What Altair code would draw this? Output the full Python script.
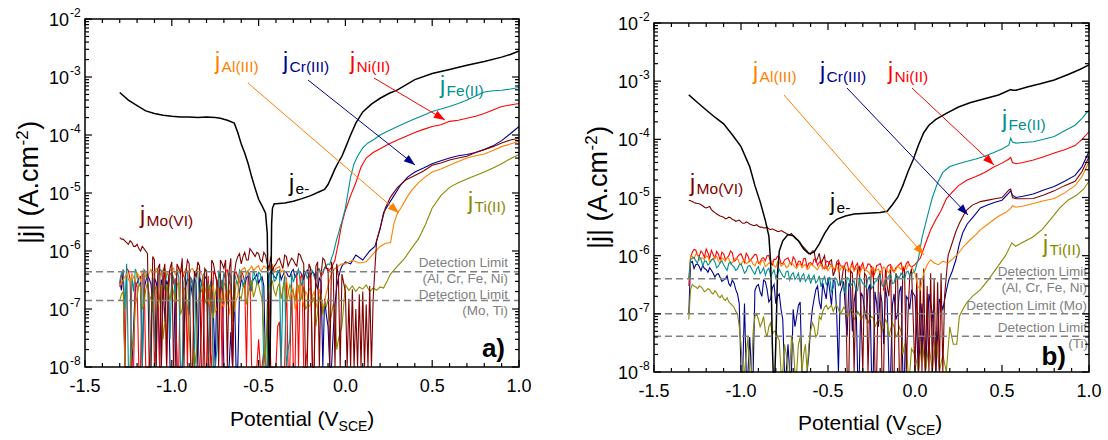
import math
import altair as alt
import pandas as pd

# ------------------------------------------------------------------ data
# sweep potentials (V_SCE) of the low-current (noise) section, two interleaved sample sets
E_grid = [round(-1.30 + 0.02 * i, 2) for i in range(65)]
E_grid2 = [round(-1.29 + 0.02 * i, 2) for i in range(64)]
U = 1e-7  # noise lists are in units of 1e-7 A/cm2 ; 0.05 = below the 1e-8 axis floor

# ---------------- panel a)
je_a_E = [-1.30, -1.25, -1.20, -1.15, -1.10, -1.05, -1.00, -0.95, -0.90, -0.85,
          -0.80, -0.75, -0.72, -0.68, -0.64, -0.62, -0.60, -0.58, -0.56, -0.54,
          -0.52, -0.50, -0.48, -0.46, -0.45, -0.445, -0.44, -0.435, -0.43, -0.425,
          -0.42, -0.41, -0.40, -0.35, -0.30, -0.25, -0.20, -0.15, -0.12, -0.10,
          -0.08, -0.06, -0.04, -0.02, 0.00, 0.03, 0.06, 0.10, 0.15, 0.20,
          0.25, 0.30, 0.40, 0.50, 0.60, 0.70, 0.80, 0.90, 0.95, 1.00]
je_a_j = [5.4e-4, 4.0e-4, 3.2e-4, 2.6e-4, 2.35e-4, 2.2e-4, 2.1e-4, 2.05e-4, 2.05e-4, 2.0e-4,
          2.05e-4, 2.0e-4, 1.95e-4, 1.8e-4, 1.6e-4, 1.1e-4, 7e-5, 4.9e-5, 3.2e-5, 1.9e-5,
          1.2e-5, 7.8e-6, 6e-6, 4.5e-6, 2e-6, 1e-7, 5e-9, 5e-9, 1e-7, 3e-6,
          5.5e-6, 6.5e-6, 6.5e-6, 6.7e-6, 7.2e-6, 8e-6, 9e-6, 1.05e-5, 1.15e-5, 1.4e-5,
          1.9e-5, 2.6e-5, 3.4e-5, 4.3e-5, 6e-5, 1.0e-4, 1.6e-4, 2.5e-4, 3.4e-4, 4.3e-4,
          5.2e-4, 6.0e-4, 9.0e-4, 1.15e-3, 1.35e-3, 1.6e-3, 1.85e-3, 2.2e-3, 2.45e-3, 2.8e-3]

fe_a_noise = [3.0, 4.5, 6.0, 0.05, 2.0, 4.0, 2.5, 4.8, 3.2, 0.05, 0.4, 3.5, 4.6, 2.2, 3.9,
              4.4, 1.8, 3.6, 0.05, 4.2, 0.8, 3.0, 4.5, 1.5, 3.8, 4.6, 2.4, 0.05, 0.2, 3.3,
              4.2, 1.2, 3.5, 4.4, 2.6, 4.0, 3.1, 4.6, 2.0, 3.6, 4.3, 2.8, 0.05, 3.9, 4.8,
              3.2, 4.5, 2.2, 0.05, 0.3, 2.9, 4.2, 3.0, 4.6, 3.4, 4.8, 3.6, 5.0, 4.1, 5.2,
              6.0, 7.5, 12, 20, 32]
fe_a_noise2 = [4.2, 1.0, 0.05, 3.6, 4.9, 2.8, 0.05, 4.3, 1.6, 3.9, 0.05, 4.8, 2.6, 4.0, 0.3,
               3.4, 4.7, 0.05, 2.9, 4.5, 3.5, 0.05, 4.1, 2.7, 4.4, 0.05, 3.6, 0.05, 4.6, 2.3,
               3.8, 4.5, 0.6, 3.2, 4.7, 2.4, 4.2, 3.3, 4.9, 2.7, 4.0, 0.05, 0.05, 4.4, 3.0,
               4.6, 0.05, 3.7, 0.2, 4.1, 3.6, 4.9, 2.5, 4.3, 3.9, 4.6, 3.2, 4.8, 4.4, 5.6,
               5.8, 9, 16, 26]
fe_a_E = [0.00, 0.03, 0.05, 0.07, 0.10, 0.13, 0.16, 0.20, 0.24, 0.30, 0.38, 0.45,
          0.50, 0.55, 0.60, 0.65, 0.70, 0.75, 0.80, 0.85, 0.90, 0.95, 1.00]
fe_a_j = [5.5e-6, 1.9e-5, 3.2e-5, 4.3e-5, 6.0e-5, 7.3e-5, 8.2e-5, 1.0e-4, 1.15e-4, 1.4e-4, 1.8e-4, 2.2e-4,
          2.55e-4, 2.8e-4, 3.1e-4, 3.5e-4, 4.0e-4, 4.7e-4, 5.5e-4, 5.8e-4, 5.9e-4, 6.2e-4, 6.6e-4]

ni_a_noise = [2.4, 4.0, 5.0, 3.2, 0.05, 2.5, 0.05, 4.2, 0.05, 0.4, 0.05, 3.6, 0.05, 4.5, 2.0,
              4.2, 3.4, 0.05, 4.8, 3.0, 4.0, 2.6, 0.05, 0.05, 3.8, 0.05, 0.2, 4.4, 2.8, 4.1,
              3.3, 4.7, 2.5, 4.0, 3.6, 4.5, 2.9, 4.2, 0.05, 0.05, 0.3, 0.05, 0.05, 2.0, 0.05,
              0.05, 0.6, 0.05, 3.5, 0.05, 0.05, 4.2, 3.4, 0.05, 0.2, 3.9, 0.05, 4.6, 3.7, 5.0,
              4.4, 5.2, 7.0, 14, 30]
ni_a_noise2 = [3.8, 0.05, 4.6, 0.05, 3.0, 0.05, 3.9, 0.05, 0.05, 4.4, 0.3, 0.05, 3.1, 0.05, 4.0,
               2.7, 0.05, 4.3, 3.6, 0.05, 3.2, 0.05, 0.05, 0.4, 0.05, 3.7, 0.05, 4.0, 3.4, 0.05,
               4.5, 3.0, 0.05, 4.4, 2.8, 3.9, 0.05, 4.1, 0.05, 0.05, 0.05, 0.2, 0.05, 0.05, 0.05,
               0.5, 0.05, 0.05, 0.05, 3.0, 0.05, 0.05, 4.0, 0.05, 3.6, 0.05, 4.3, 4.9, 4.0, 5.3,
               4.8, 6.0, 10, 21]
ni_a_E = [0.00, 0.03, 0.06, 0.09, 0.12, 0.16, 0.20, 0.25, 0.30, 0.35, 0.40, 0.45,
          0.50, 0.55, 0.60, 0.65, 0.70, 0.75, 0.80, 0.85, 0.90, 0.95, 1.00]
ni_a_j = [5.0e-6, 9e-6, 1.5e-5, 2.8e-5, 4.0e-5, 5.0e-5, 5.8e-5, 7.0e-5, 8.2e-5, 9.5e-5, 1.1e-4, 1.25e-4,
          1.4e-4, 1.5e-4, 1.72e-4, 1.8e-4, 1.95e-4, 2.1e-4, 2.35e-4, 2.7e-4, 3.1e-4, 3.3e-4, 3.5e-4]

cr_a_noise = [3.0, 4.8, 0.05, 0.05, 0.5, 2.8, 3.6, 2.2, 3.9, 2.7, 3.4, 1.8, 3.2, 0.6, 2.5,
              0.05, 2.9, 0.05, 0.05, 2.4, 3.1, 1.6, 2.8, 3.5, 2.1, 3.3, 2.5, 0.8, 3.0, 1.9,
              0.05, 0.05, 0.4, 2.6, 0.05, 3.2, 2.4, 3.7, 2.9, 3.5, 2.8, 3.6, 0.05, 3.9, 4.2,
              3.4, 4.6, 3.8, 4.3, 3.6, 4.8, 3.9, 4.4, 3.3, 4.7, 3.8, 4.1, 2.2, 3.0, 1.5,
              0.5, 0.05, 1.2, 3.5, 5.5]
cr_a_noise2 = [2.1, 0.05, 0.05, 0.05, 2.3, 3.4, 0.05, 3.0, 3.3, 1.2, 2.9, 0.05, 2.6, 3.1, 0.05,
               0.05, 0.05, 0.05, 0.4, 3.3, 2.6, 3.4, 0.05, 2.9, 3.6, 2.0, 3.1, 0.05, 2.4, 3.2,
               0.05, 0.05, 0.05, 0.05, 2.0, 2.8, 3.5, 2.1, 3.2, 4.0, 3.3, 2.5, 0.05, 4.4, 3.6,
               4.1, 3.2, 4.5, 3.7, 4.4, 3.5, 4.5, 3.8, 4.2, 3.6, 4.4, 2.8, 3.4, 0.05, 0.8,
               0.05, 0.4, 2.4, 4.6]
cr_a_E = [0.00, 0.03, 0.06, 0.10, 0.14, 0.17, 0.20, 0.22, 0.25, 0.28, 0.32, 0.36, 0.40,
          0.45, 0.50, 0.55, 0.60, 0.65, 0.70, 0.75, 0.80, 0.85, 0.90, 0.95, 1.00]
cr_a_j = [6.5e-7, 6.0e-7, 8.5e-7, 7.0e-7, 1.0e-6, 1.2e-6, 2.4e-6, 4.6e-6, 6.5e-6, 9.0e-6, 1.4e-5, 1.9e-5, 2.3e-5,
          2.7e-5, 3.2e-5, 3.6e-5, 4.0e-5, 4.4e-5, 4.6e-5, 5.0e-5, 5.6e-5, 6.5e-5, 8.0e-5, 1.05e-4, 1.4e-4]

al_a_noise = [2.5, 3.2, 4.0, 2.8, 3.5, 4.2, 2.9, 4.4, 3.6, 4.8, 4.0, 4.6, 3.8, 5.0, 4.3,
              4.7, 3.9, 5.2, 4.4, 4.9, 4.1, 5.0, 4.5, 4.8, 3.7, 1.8, 1.2, 2.6, 1.0, 1.5,
              1.1, 2.0, 1.3, 0.9, 1.7, 4.6, 5.2, 4.4, 5.5, 4.9, 5.6, 4.8, 5.3, 4.6, 5.8,
              5.0, 5.4, 4.7, 3.2, 1.5, 2.2, 1.3, 2.6, 1.1, 1.8, 1.2, 2.0, 1.0, 1.6, 1.3,
              2.5, 4.0, 5.0, 5.5, 6.0]
al_a_noise2 = [2.9, 3.6, 3.3, 4.1, 3.0, 3.8, 4.6, 3.5, 4.2, 3.9, 5.0, 4.2, 4.9, 4.0, 4.6,
               5.1, 4.3, 4.7, 4.0, 4.5, 4.8, 4.2, 5.1, 4.0, 2.4, 1.4, 2.1, 0.9, 2.3, 1.2,
               1.8, 0.8, 1.6, 1.4, 3.5, 4.9, 4.1, 5.0, 4.6, 5.3, 4.5, 5.5, 4.9, 5.6, 4.4,
               5.2, 4.3, 4.0, 2.1, 1.9, 1.0, 2.3, 1.5, 2.0, 1.1, 1.7, 1.3, 2.2, 1.0, 1.9,
               3.2, 4.6, 5.3, 5.8]
al_a_E = [0.00, 0.04, 0.08, 0.12, 0.16, 0.20, 0.23, 0.26, 0.28, 0.30, 0.32, 0.35, 0.38,
          0.42, 0.46, 0.50, 0.55, 0.60, 0.65, 0.70, 0.75, 0.80, 0.85, 0.90, 0.95, 1.00]
al_a_j = [6.0e-7, 6.9e-7, 6.2e-7, 6.5e-7, 8.9e-7, 1.2e-6, 1.35e-6, 1.4e-6, 3.0e-6, 4.5e-6, 5.5e-6, 8.0e-6, 1.1e-5,
          1.5e-5, 1.9e-5, 2.3e-5, 2.6e-5, 3.0e-5, 3.5e-5, 4.0e-5, 4.4e-5, 4.7e-5, 5.4e-5, 6.3e-5, 7.0e-5, 7.8e-5]

mo_a_noise = [17, 16, 14, 15, 12, 13, 10, 11, 9, 0.05, 7, 5, 0.05, 6, 3,
              6.5, 0.05, 5, 7.5, 4, 6, 0.05, 3.5, 5.5, 0.05, 4.5, 0.05, 6, 3, 7,
              5, 0.05, 7.5, 4, 8, 6, 9.5, 7, 10, 8, 9, 6.5, 8.5, 5, 4.5,
              6, 7.5, 5, 8, 6.5, 7, 5.5, 8.5, 6, 0.05, 5, 0.05, 6.5, 4, 7,
              5, 6.5, 0.05, 3.5, 4]
mo_a_noise2 = [16, 15, 13, 14, 12, 11, 12, 10, 0.05, 8, 0.05, 6, 4, 0.05, 5,
               0.05, 6, 4, 0.05, 7, 0.05, 4.5, 6.5, 0.05, 5, 0.05, 7, 4, 0.05, 6,
               7, 4.5, 0.05, 6.5, 9, 8, 7, 11, 9, 9.5, 7, 9.5, 6, 8, 5.5,
               7, 6, 8.5, 5.5, 7.5, 6, 9, 7, 0.05, 6, 0.05, 5.5, 0.05, 7.5, 5,
               0.05, 4.5, 6, 0.05]
mo_a_E = [0.00, 0.01, 0.02, 0.03, 0.04, 0.05, 0.06, 0.07, 0.08, 0.09, 0.10, 0.11, 0.12, 0.13, 0.14, 0.15, 0.16,
          0.17, 0.18, 0.20, 0.23, 0.26, 0.30, 0.35, 0.40, 0.45, 0.50, 0.55, 0.60, 0.65, 0.70, 0.75, 0.80,
          0.85, 0.90, 0.95, 1.00]
mo_a_j = [2e-7, 5e-9, 1.5e-7, 5e-9, 2.2e-7, 5e-9, 1e-7, 5e-9, 1.8e-7, 5e-9, 2e-7, 5e-9, 1.2e-7, 5e-9, 2.5e-7, 5e-9, 1.5e-7,
          5e-7, 1.5e-6, 2.5e-6, 5.5e-6, 8.5e-6, 1.25e-5, 1.7e-5, 2.0e-5, 2.4e-5, 3.0e-5, 3.3e-5, 3.7e-5, 4.0e-5, 4.3e-5, 5.0e-5, 5.6e-5,
          6.3e-5, 7.3e-5, 8.2e-5, 8.8e-5]

ti_a_noise = [1.4, 2.0, 0.05, 0.05, 0.3, 1.6, 2.4, 1.2, 2.8, 1.5, 2.2, 1.1, 2.6, 0.6, 1.9,
              2.5, 1.3, 2.9, 1.0, 2.1, 0.4, 0.05, 0.05, 1.8, 2.6, 1.2, 2.2, 0.7, 2.5, 1.6,
              2.8, 1.4, 2.3, 1.1, 2.7, 1.5, 2.9, 1.8, 3.0, 2.0, 2.6, 1.5, 0.05, 2.4, 3.0,
              1.7, 2.8, 2.2, 1.3, 2.6, 1.9, 2.7, 1.4, 2.4, 1.1, 2.3, 1.6, 0.9, 1.9, 1.2,
              1.5, 0.8, 1.0, 0.3, 0.5]
ti_a_noise2 = [1.8, 0.05, 0.05, 0.2, 1.2, 2.6, 1.0, 2.2, 1.7, 0.9, 2.4, 1.6, 0.3, 2.7, 1.4,
               2.0, 2.6, 0.8, 2.3, 1.1, 0.05, 0.2, 1.2, 2.0, 1.5, 2.7, 0.9, 1.8, 2.2, 1.3,
               2.5, 1.9, 0.6, 2.9, 1.7, 2.3, 1.2, 2.6, 1.6, 2.8, 1.9, 0.4, 1.2, 2.7, 2.0,
               2.4, 1.5, 2.9, 1.8, 2.2, 1.4, 2.5, 1.7, 1.0, 2.1, 1.3, 0.5, 1.5, 0.8, 1.1,
               0.6, 1.2, 0.2, 0.4]
ti_a_E = [0.00, 0.02, 0.04, 0.06, 0.08, 0.10, 0.12, 0.14, 0.16, 0.18, 0.20, 0.22, 0.24, 0.26, 0.30,
          0.34, 0.38, 0.42, 0.46, 0.50, 0.55, 0.60, 0.65, 0.70, 0.75, 0.80, 0.85, 0.90, 0.95, 1.00]
ti_a_j = [2.6e-7, 2.1e-7, 2.5e-7, 2.0e-7, 2.4e-7, 2.2e-7, 2.6e-7, 2.0e-7, 2.3e-7, 2.1e-7, 2.4e-7, 2.3e-7, 3.0e-7, 4.0e-7, 5.5e-7,
          7.4e-7, 1.1e-6, 1.6e-6, 2.8e-6, 5.5e-6, 9e-6, 1.25e-5, 1.5e-5, 1.75e-5, 2.0e-5, 2.3e-5, 2.7e-5, 3.2e-5, 3.9e-5, 4.6e-5]

# ---------------- panel b)
je_b_E = [-1.30, -1.25, -1.20, -1.15, -1.10, -1.05, -1.00, -0.95, -0.92, -0.89,
          -0.86, -0.84, -0.83, -0.825, -0.82, -0.815, -0.81, -0.805, -0.80, -0.79,
          -0.78, -0.76, -0.73, -0.70, -0.67, -0.64, -0.61, -0.58, -0.55, -0.52,
          -0.49, -0.45, -0.40, -0.35, -0.30, -0.25, -0.20, -0.16, -0.13, -0.10,
          -0.07, -0.04, -0.01, 0.02, 0.05, 0.08, 0.12, 0.18, 0.25, 0.32,
          0.40, 0.48, 0.55, 0.56, 0.58, 0.65, 0.72, 0.80, 0.88, 0.95, 1.00]
je_b_j = [5.8e-4, 4.3e-4, 3.2e-4, 2.4e-4, 1.85e-4, 1.2e-4, 7.5e-5, 3.4e-5, 1.6e-5, 8.5e-6,
          4e-6, 2.2e-6, 8e-7, 2e-7, 3e-8, 5e-9, 5e-9, 5e-9, 3e-8, 5e-7,
          1.2e-6, 1.8e-6, 2.3e-6, 2.2e-6, 1.8e-6, 1.3e-6, 1.08e-6, 1.15e-6, 1.6e-6, 2.4e-6,
          3.3e-6, 4.2e-6, 4.8e-6, 5.2e-6, 5.3e-6, 5.4e-6, 5.5e-6, 5.8e-6, 7.5e-6, 1.0e-5,
          1.6e-5, 2.8e-5, 4.5e-5, 8e-5, 1.3e-4, 1.75e-4, 2.2e-4, 2.8e-4, 3.6e-4, 4.3e-4,
          5.0e-4, 5.8e-4, 7.2e-4, 7.0e-4, 7.0e-4, 8.0e-4, 9.0e-4, 1.05e-3, 1.3e-3, 1.6e-3, 1.9e-3]

fe_b_noise = [4, 9.0, 8.2, 9.6, 6.6, 8.0, 7.4, 8.8, 6.2, 7.6,
              7.0, 5.6, 7.8, 6.4, 5.9, 7.2, 5.0, 6.6, 6.0, 4.8,
              6.5, 5.4, 4.6, 6.1, 5.0, 4.2, 5.8, 4.5, 5.3, 3.8,
              5.1, 4.3, 3.5, 4.9, 4.0, 3.3, 4.6, 3.7, 2.9, 4.4,
              3.6, 2.4, 4.2, 3.1, 3.8, 2.2, 4.0, 3.4, 2.6, 4.1,
              3.3, 2.8, 4.3, 3.0, 3.7, 4.6, 2.9, 4.0, 4.8, 3.4,
              4.4, 5.0, 3.9, 5.4, 4.8]
fe_b_noise2 = [8.6, 9.4, 7.4, 8.8, 8.1, 6.9, 8.5, 7.8, 6.6, 8.2, 6.2, 7.4, 6.8, 5.6, 7.0,
               6.1, 5.4, 6.8, 5.3, 5.9, 4.9, 6.2, 5.6, 4.5, 5.7, 4.8, 5.1, 4.2, 5.4, 4.7,
               3.9, 5.0, 4.4, 3.6, 4.7, 4.1, 3.4, 4.5, 3.8, 3.2, 4.3, 2.8, 3.9, 3.5, 2.6,
               4.2, 3.0, 3.7, 2.5, 3.9, 3.2, 4.1, 2.7, 3.6, 4.4, 3.1, 3.8, 4.5, 3.3, 4.7,
               4.1, 4.6, 5.2, 4.5]
fe_b_E = [0.00, 0.02, 0.04, 0.06, 0.08, 0.10, 0.13, 0.16, 0.20, 0.25, 0.30, 0.35, 0.40, 0.45,
          0.50, 0.54, 0.55, 0.56, 0.58, 0.62, 0.68, 0.74, 0.80, 0.86, 0.92, 0.96, 1.00]
fe_b_j = [5.5e-7, 9e-7, 2e-6, 3.5e-6, 6e-6, 1.0e-5, 1.8e-5, 2.7e-5, 3.4e-5, 3.8e-5, 4.2e-5, 4.6e-5, 5.1e-5, 5.9e-5,
          6.8e-5, 8.0e-5, 1.05e-4, 9.0e-5, 8.6e-5, 8.8e-5, 9.1e-5, 1.0e-4, 1.12e-4, 1.4e-4, 1.75e-4, 2.3e-4, 3.2e-4]

ni_b_noise = [3, 11.5, 12.5, 9.8, 11.0, 13.0, 9.0, 10.5, 11.8, 8.4,
              10.9, 9.2, 12.0, 8.0, 9.6, 10.8, 7.6, 9.9, 8.8, 10.6,
              7.4, 9.0, 8.2, 10.1, 6.9, 8.6, 9.4, 7.2, 8.8, 7.8,
              9.5, 6.6, 8.0, 8.9, 6.2, 7.6, 8.7, 6.8, 8.2, 6.0,
              7.9, 7.0, 5.6, 8.4, 6.5, 7.4, 5.4, 7.8, 6.7, 4.6,
              7.5, 6.0, 7.1, 4.2, 6.8, 7.3, 2.5, 6.4, 7.0, 5.2,
              6.6, 7.6, 5.8, 7.9, 6.4]
ni_b_noise2 = [9.0, 12.8, 10.2, 12.0, 9.4, 11.2, 12.4, 9.0, 10.6, 11.5, 8.6, 10.0, 11.2, 8.4, 10.4,
               9.1, 11.0, 8.0, 9.6, 10.2, 7.8, 9.2, 10.0, 7.6, 8.7, 9.8, 7.3, 8.4, 9.2, 7.0,
               8.6, 8.0, 6.6, 9.0, 7.4, 6.9, 8.5, 7.7, 6.4, 8.1, 7.2, 6.2, 7.8, 6.8, 5.9,
               7.7, 6.3, 5.6, 7.4, 6.6, 5.5, 7.2, 6.1, 5.2, 7.0, 6.0, 4.0, 6.9, 5.6, 6.2,
               7.1, 5.4, 7.3, 6.8]
ni_b_E = [0.00, 0.03, 0.06, 0.09, 0.12, 0.15, 0.18, 0.21, 0.25, 0.30, 0.35, 0.40, 0.45,
          0.50, 0.54, 0.55, 0.56, 0.58, 0.62, 0.68, 0.74, 0.80, 0.86, 0.92, 0.96, 1.00]
ni_b_j = [7e-7, 9e-7, 1.6e-6, 2.8e-6, 4.2e-6, 6.0e-6, 9.5e-6, 1.2e-5, 1.6e-5, 2.0e-5, 2.3e-5, 2.7e-5, 3.3e-5,
          3.9e-5, 4.6e-5, 4.9e-5, 4.0e-5, 3.8e-5, 4.0e-5, 4.4e-5, 5.0e-5, 5.8e-5, 6.6e-5, 7.8e-5, 1.0e-4, 1.35e-4]

cr_b_noise = [1.0, 8, 7, 6.5, 6.8, 5.8, 6.2, 5.0, 4.8, 4.2, 3.8, 4.5, 3.0, 3.4, 2.2,
              0.05, 1.5, 0.05, 0.05, 2.5, 3.2, 2.0, 3.6, 1.6, 2.8, 1.5, 2.2, 0.8, 0.05, 0.05,
              1.2, 0.9, 1.6, 0.05, 0.05, 0.6, 1.8, 3.0, 1.2, 2.4, 4.2, 1.4, 3.6, 0.05, 2.8,
              1.2, 3.4, 0.5, 2.6, 0.05, 2.0, 0.8, 3.2, 0.05, 1.5, 2.4, 0.3, 1.8, 0.05, 2.2,
              1.0, 3.0, 0.05, 1.8, 2.5]
cr_b_noise2 = [7.5, 6.0, 7.2, 5.5, 6.0, 5.2, 5.6, 4.3, 4.9, 3.6, 4.0, 3.3, 3.8, 2.6, 1.5,
               0.05, 0.05, 0.4, 0.05, 3.0, 2.4, 3.8, 2.6, 1.8, 3.2, 2.0, 1.2, 0.05, 0.3, 0.05,
               0.6, 1.4, 0.05, 0.05, 0.2, 1.2, 2.6, 1.6, 3.4, 1.8, 2.5, 3.8, 1.0, 2.2, 3.6,
               0.4, 2.8, 1.6, 0.05, 2.3, 1.2, 2.6, 0.05, 2.4, 0.6, 1.6, 2.8, 0.05, 1.4, 0.8,
               2.4, 0.05, 2.0, 1.2]
cr_b_E = [0.00, 0.02, 0.04, 0.06, 0.08, 0.10, 0.12, 0.14, 0.16, 0.18, 0.195, 0.215, 0.235, 0.255, 0.275, 0.30,
          0.336, 0.376, 0.42, 0.46, 0.50, 0.54, 0.55, 0.56, 0.58, 0.62, 0.68, 0.74, 0.80, 0.86, 0.92, 0.96, 1.00]
cr_b_j = [2e-7, 5e-9, 1.5e-7, 5e-9, 2.2e-7, 1e-7, 5e-9, 1.8e-7, 1.2e-7, 2.5e-7, 3.9e-7, 5.5e-7, 8.5e-7, 1.6e-6, 2.5e-6, 3.5e-6,
          4.7e-6, 6.6e-6, 7.5e-6, 8.3e-6, 9.0e-6, 1.2e-5, 1.3e-5, 1.1e-5, 1.0e-5, 1.05e-5, 1.15e-5, 1.35e-5, 1.55e-5, 1.9e-5, 2.4e-5, 3.4e-5, 6.2e-5]

al_b_noise = [4, 9.8, 10.6, 8.4, 9.2, 10.0, 7.8, 9.0, 9.7, 7.4,
              8.6, 9.3, 7.2, 8.3, 8.9, 6.9, 8.5, 7.6, 8.2, 6.7,
              7.9, 8.4, 6.5, 7.5, 8.0, 6.3, 7.7, 7.0, 6.2, 7.6,
              7.1, 6.0, 7.3, 6.7, 5.8, 7.2, 6.5, 5.7, 7.0, 6.3,
              5.5, 6.9, 6.1, 5.4, 6.8, 6.0, 5.3, 6.6, 5.9, 5.0,
              6.5, 5.6, 4.8, 6.3, 5.7, 5.0, 6.4, 5.5, 6.1, 5.2,
              6.6, 5.8, 6.3, 6.9, 6.5]
al_b_noise2 = [10.0, 8.8, 10.4, 9.0, 8.6, 9.6, 8.2, 9.5, 8.0, 9.2, 8.0, 8.8, 7.6, 9.1, 7.5,
               8.1, 7.3, 8.6, 7.1, 7.9, 7.0, 8.1, 6.9, 7.4, 6.7, 7.9, 6.6, 7.3, 6.5, 7.5,
               6.4, 7.0, 6.2, 7.1, 6.0, 6.9, 6.1, 6.6, 5.9, 6.7, 6.2, 5.8, 6.6, 5.7, 6.3,
               5.6, 6.4, 5.4, 6.2, 5.5, 6.0, 5.3, 6.1, 5.2, 5.9, 5.6, 6.0, 5.1, 6.3, 5.7,
               6.2, 6.5, 5.9, 6.8]
al_b_E = [0.00, 0.015, 0.03, 0.05, 0.07, 0.09, 0.11, 0.135, 0.16, 0.19, 0.22, 0.25, 0.28, 0.316, 0.35,
          0.376, 0.42, 0.477, 0.52, 0.55, 0.56, 0.58, 0.63, 0.68, 0.74, 0.80, 0.86, 0.92, 0.96, 1.00]
al_b_j = [5e-7, 3e-7, 2.6e-7, 5e-7, 7e-7, 8.5e-7, 7.5e-7, 7e-7, 8e-7, 7.5e-7, 9e-7, 1.1e-6, 1.45e-6, 1.86e-6, 2.3e-6,
          2.8e-6, 3.5e-6, 4.7e-6, 5.5e-6, 6.5e-6, 7.2e-6, 6.8e-6, 7.2e-6, 7.9e-6, 8.8e-6, 9.6e-6, 1.2e-5, 1.6e-5, 2.3e-5, 4.1e-5]

mo_b_noise = [90, 85, 80, 78, 72, 66, 70, 58, 52, 48, 46, 44, 45, 41, 40,
              38, 36, 37, 34, 33, 32, 31, 30, 29, 29, 27, 26, 26, 24, 23,
              22, 19, 17, 14, 12, 10.5, 12, 9, 7, 10, 6.5, 8.5, 5.5, 7.5, 4,
              6, 0.05, 5, 2, 6.5, 0.05, 4.5, 1.5, 6, 0.05, 5.5, 0.05, 3, 6.5, 0.05,
              4, 0.05, 5.5, 1, 6]
mo_b_noise2 = [88, 82, 79, 75, 68, 68, 62, 55, 50, 47, 43, 46, 42, 39, 41,
               36, 38, 35, 33, 34, 31, 30, 31, 28, 28, 26, 27, 25, 23, 24,
               20, 18, 15, 13, 11, 12, 8, 11, 8.5, 6, 8, 4.5, 7, 3, 6.5,
               0.05, 5.5, 0.05, 6, 1, 5, 0.05, 6.5, 0.05, 4, 0.05, 6, 2, 0.05, 5,
               0.05, 6.5, 0.05, 4.5]
mo_b_E = [0.00, 0.01, 0.02, 0.03, 0.04, 0.05, 0.06, 0.07, 0.08, 0.09, 0.10, 0.11, 0.12, 0.13, 0.14, 0.15, 0.16,
          0.17, 0.19, 0.215, 0.235, 0.255, 0.28, 0.30, 0.33, 0.376, 0.42, 0.46, 0.50, 0.54, 0.55, 0.56, 0.58,
          0.62, 0.68, 0.74, 0.80, 0.86, 0.92, 0.96, 1.00]
mo_b_j = [5e-9, 5e-7, 5e-9, 4e-7, 5e-9, 6e-7, 5e-9, 3e-7, 5e-9, 5e-7, 5e-9, 4e-7, 5e-9, 3.5e-7, 5e-9, 5e-7, 5e-9,
          2e-7, 1e-6, 1.7e-6, 2.6e-6, 3.6e-6, 5e-6, 6.2e-6, 7.4e-6, 8.5e-6, 9e-6, 9.5e-6, 1.0e-5, 1.35e-5, 1.4e-5, 1.0e-5, 9.5e-6,
          9.5e-6, 9.6e-6, 1.1e-5, 1.3e-5, 1.6e-5, 1.9e-5, 2.8e-5, 5e-5]

ti_b_noise = [0.8, 3.2, 2.9, 3.0, 2.7, 2.5, 2.6, 2.2, 2.3, 1.9, 1.8, 1.9, 1.5, 1.3, 1.0,
              0.3, 0.05, 0.4, 0.05, 0.9, 0.8, 0.7, 0.5, 0.6, 0.45, 0.5, 0.35, 0.05, 0.2, 0.05,
              0.3, 0.05, 0.4, 0.2, 0.05, 0.5, 0.6, 0.45, 0.8, 1.3, 1.2, 1.4, 1.3, 1.2, 1.1,
              1.2, 1.0, 1.1, 0.9, 1.0, 0.9, 1.0, 0.8, 0.85, 0.7, 0.75, 0.6, 0.7, 0.55, 0.6,
              0.45, 0.5, 0.3, 0.05, 0.25]
ti_b_noise2 = [2.6, 3.0, 2.7, 2.9, 2.4, 2.7, 2.3, 2.5, 2.0, 2.1, 1.7, 1.6, 1.4, 1.1, 0.6,
               0.05, 0.2, 0.05, 0.5, 1.0, 0.6, 0.9, 0.4, 0.7, 0.5, 0.4, 0.05, 0.3, 0.05, 0.4,
               0.05, 0.3, 0.05, 0.3, 0.3, 0.7, 0.4, 0.9, 1.1, 1.4, 1.3, 1.1, 1.4, 1.0, 1.3,
               0.9, 1.2, 0.8, 1.1, 0.8, 1.1, 0.7, 0.9, 0.6, 0.8, 0.5, 0.8, 0.4, 0.7, 0.4,
               0.6, 0.2, 0.3, 0.05]
ti_b_E = [0.00, 0.02, 0.04, 0.06, 0.08, 0.10, 0.12, 0.14, 0.16, 0.18, 0.20, 0.22, 0.24, 0.255, 0.275, 0.30,
          0.33, 0.376, 0.42, 0.477, 0.52, 0.557, 0.578, 0.62, 0.678, 0.73, 0.779, 0.83, 0.879, 0.93, 0.97, 1.00]
ti_b_j = [2e-8, 5e-9, 4e-8, 5e-9, 3e-8, 5e-9, 5e-8, 5e-9, 2e-8, 5e-9, 6e-8, 3e-8, 3e-8, 9e-8, 1.2e-7, 1.6e-7,
          2e-7, 2.6e-7, 3.8e-7, 6.6e-7, 1.0e-6, 1.66e-6, 1.45e-6, 1.7e-6, 2.1e-6, 2.8e-6, 4.2e-6, 6.5e-6, 9e-6, 1.1e-5, 1.4e-5, 1.9e-5]

# detection limits (A/cm2)
det_a = [4.4e-7, 1.4e-7]
det_b = [4.0e-7, 1.0e-7, 4.1e-8]

# axis ticks
x_major = [-1.5, -1.0, -0.5, 0.0, 0.5, 1.0]
x_labels = ["-1.5", "-1.0", "-0.5", "0.0", "0.5", "1.0"]
x_minor = [round(-1.5 + 0.1 * i, 1) for i in range(26) if i % 5 != 0]
y_major = [1e-8, 1e-7, 1e-6, 1e-5, 1e-4, 1e-3, 1e-2]
y_exp = ["-8", "-7", "-6", "-5", "-4", "-3", "-2"]
y_minor = [k * 10.0 ** d for d in range(-8, -2) for k in range(2, 10)]

# ------------------------------------------------------------------ styling / layout
FONT = "Liberation Sans"
BLACK, TEAL, RED, NAVY, ORANGE, MAROON, OLIVE = "#000000", "#009090", "#ff0000", "#000090", "#ff8000", "#800000", "#8a8a00"
GRAY = "#808080"
PX = {"a": (85, 519), "b": (654, 1089)}
PY = {"a": (367, 19), "b": (372, 23)}

AW = {' ': 278, '(': 333, ')': 333, '-': 333, '.': 278, ',': 278, '|': 260, 'A': 667, 'C': 722,
      'E': 667, 'F': 611, 'I': 278, 'M': 833, 'N': 722, 'S': 667, 'T': 611, 'V': 667, 'P': 667,
      'a': 556, 'c': 500, 'e': 556, 'i': 222, 'j': 222, 'l': 222, 'm': 833, 'n': 556, 'o': 556,
      'r': 333, 't': 278}


def tw(s, size):
    return sum(AW.get(c, 556) for c in s) * size / 1000.0


def xsc(p):
    return alt.Scale(domain=[-1.5, 1.0], range=list(PX[p]), nice=False, zero=False)


def ysc(p):
    return alt.Scale(type="log", domain=[1e-8, 1e-2], range=list(PY[p]), clamp=True)


def line(p, E, J, color, w=1.2):
    df = pd.DataFrame({"E": E, "j": J}).sort_values("E")
    return alt.Chart(df).mark_line(color=color, strokeWidth=w).encode(
        x=alt.X("E:Q", scale=xsc(p), axis=None),
        y=alt.Y("j:Q", scale=ysc(p), axis=None),
    )


def species(p, noise, noise2, E, J, color):
    return line(p, E_grid + E_grid2 + E, [v * U for v in noise] + [v * U for v in noise2] + J, color, 1.1)


def pix(df):
    return dict(x=alt.X("x:Q", scale=None, axis=None), y=alt.Y("y:Q", scale=None, axis=None))


layers = []

# data lines
layers += [
    species("a", cr_a_noise, cr_a_noise2, cr_a_E, cr_a_j, NAVY),
    species("a", ni_a_noise, ni_a_noise2, ni_a_E, ni_a_j, RED),
    species("a", fe_a_noise, fe_a_noise2, fe_a_E, fe_a_j, TEAL),
    species("a", al_a_noise, al_a_noise2, al_a_E, al_a_j, ORANGE),
    species("a", ti_a_noise, ti_a_noise2, ti_a_E, ti_a_j, OLIVE),
    species("a", mo_a_noise, mo_a_noise2, mo_a_E, mo_a_j, MAROON),
    line("a", je_a_E, je_a_j, BLACK, 1.5),
    species("b", cr_b_noise, cr_b_noise2, cr_b_E, cr_b_j, NAVY),
    species("b", ti_b_noise, ti_b_noise2, ti_b_E, ti_b_j, OLIVE),
    species("b", mo_b_noise, mo_b_noise2, mo_b_E, mo_b_j, MAROON),
    species("b", ni_b_noise, ni_b_noise2, ni_b_E, ni_b_j, RED),
    species("b", al_b_noise, al_b_noise2, al_b_E, al_b_j, ORANGE),
    species("b", fe_b_noise, fe_b_noise2, fe_b_E, fe_b_j, TEAL),
    line("b", je_b_E, je_b_j, BLACK, 1.5),
]

# detection limit lines
for p, det in (("a", det_a), ("b", det_b)):
    layers.append(
        alt.Chart(pd.DataFrame({"j": det})).mark_rule(color=GRAY, strokeWidth=1.5, strokeDash=[7, 4]).encode(
            y=alt.Y("j:Q", scale=ysc(p), axis=None), x=alt.value(PX[p][0]), x2=alt.value(PX[p][1]))
    )

# detection limit texts
det_txt = pd.DataFrame({
    "x": [508, 508, 508, 508, 1087, 1087, 1087, 1087, 1088],
    "y": [263, 279, 295, 311, 272, 288, 306, 328, 344],
    "t": ["Detection Limit", "(Al, Cr, Fe, Ni)", "Detection Limit", "(Mo, Ti)",
          "Detection Limit", "(Al, Cr, Fe, Ni)", "Detection Limit (Mo)", "Detection Limit", "(Ti)"],
})
layers.append(alt.Chart(det_txt).mark_text(font=FONT, fontSize=13.5, color=GRAY, align="right",
                                           baseline="middle").encode(text="t:N", **pix(det_txt)))

# arrows (label -> curve), canvas px
arrows = pd.DataFrame({
    "x": [248, 308, 374, 784, 847, 912],
    "y": [83, 80, 78, 95, 88, 88],
    "x2": [399, 415, 445, 924, 968, 994],
    "y2": [213, 165, 120, 255, 215, 165],
    "c": [ORANGE, NAVY, RED, ORANGE, NAVY, RED],
})
arrows["ang"] = [(math.degrees(math.atan2(r.x2 - r.x, -(r.y2 - r.y))) + 360) % 360 for r in arrows.itertuples()]
layers.append(alt.Chart(arrows).mark_rule(strokeWidth=1).encode(
    x=alt.X("x:Q", scale=None, axis=None), y=alt.Y("y:Q", scale=None, axis=None),
    x2="x2:Q", y2="y2:Q", color=alt.Color("c:N", scale=None)))
layers.append(alt.Chart(arrows).mark_point(shape="M0,0 L-0.36,1 L0.36,1 Z", size=500, filled=True, opacity=1).encode(
    x=alt.X("x2:Q", scale=None, axis=None), y=alt.Y("y2:Q", scale=None, axis=None),
    angle=alt.Angle("ang:Q", scale=None), color=alt.Color("c:N", scale=None)))

# species labels j_X
labs = pd.DataFrame({
    "x": [215, 283, 350, 440, 289, 468, 140, 753, 820, 888, 1002, 830, 690, 1043],
    "y": [69, 69, 69, 93, 191, 209, 223, 79, 79, 79, 127, 210, 191, 252],
    "s": ["Al(III)", "Cr(III)", "Ni(II)", "Fe(II)", "e-", "Ti(II)", "Mo(VI)",
          "Al(III)", "Cr(III)", "Ni(II)", "Fe(II)", "e-", "Mo(VI)", "Ti(II)"],
    "c": [ORANGE, NAVY, RED, TEAL, BLACK, OLIVE, MAROON, ORANGE, NAVY, RED, TEAL, BLACK, MAROON, OLIVE],
})
layers.append(alt.Chart(labs).mark_text(font=FONT, fontSize=23, align="left", baseline="alphabetic", text="j").encode(
    color=alt.Color("c:N", scale=None), **pix(labs)))
layers.append(alt.Chart(labs).mark_text(font=FONT, fontSize=15.5, align="left", baseline="alphabetic",
                                        dx=tw("j", 23) + 1.5, dy=3).encode(
    text="s:N", color=alt.Color("c:N", scale=None), **pix(labs)))

# panel letters
letters = pd.DataFrame({"x": [505, 1066], "y": [357, 365], "t": ["a)", "b)"]})
layers.append(alt.Chart(letters).mark_text(font=FONT, fontSize=26, fontWeight="bold", align="right",
                                           baseline="alphabetic").encode(text="t:N", **pix(letters)))

# axis titles
xt = pd.DataFrame({"x": [230, 798], "y": [426, 430]})
w_pot = tw("Potential (V", 21)
layers.append(alt.Chart(xt).mark_text(font=FONT, fontSize=21, align="left", baseline="alphabetic",
                                      text="Potential (V").encode(**pix(xt)))
layers.append(alt.Chart(xt).mark_text(font=FONT, fontSize=14, align="left", baseline="alphabetic",
                                      text="SCE", dx=w_pot, dy=5).encode(**pix(xt)))
layers.append(alt.Chart(xt).mark_text(font=FONT, fontSize=21, align="left", baseline="alphabetic",
                                      text=")", dx=w_pot + tw("SCE", 14)).encode(**pix(xt)))

YT = 27
yt = pd.DataFrame({"x": [38, 607], "y": [244, 249]})
w_j = tw("|j| (A.cm", YT)
layers.append(alt.Chart(yt).mark_text(font=FONT, fontSize=YT, angle=270, align="left", baseline="alphabetic",
                                      text="|j| (A.cm").encode(**pix(yt)))
layers.append(alt.Chart(yt).mark_text(font=FONT, fontSize=17, angle=270, align="left", baseline="alphabetic",
                                      text="-2", dx=w_j + 0.5, dy=-10).encode(**pix(yt)))
layers.append(alt.Chart(yt).mark_text(font=FONT, fontSize=YT, angle=270, align="left", baseline="alphabetic",
                                      text=")", dx=w_j + tw("-2", 17) + 1).encode(**pix(yt)))

# ticks, tick labels and frames
for p in ("a", "b"):
    x0, x1 = PX[p]
    yb, ytop = PY[p]
    for vals, L in ((x_major, 7), (x_minor, 4)):
        d = pd.DataFrame({"E": vals})
        xe = alt.X("E:Q", scale=xsc(p), axis=None)
        layers.append(alt.Chart(d).mark_rule(color="black", strokeWidth=1.2).encode(
            x=xe, y=alt.value(yb), y2=alt.value(yb - L)))
        layers.append(alt.Chart(d).mark_rule(color="black", strokeWidth=1.2).encode(
            x=xe, y=alt.value(ytop), y2=alt.value(ytop + L)))
    for vals, L in ((y_major, 7), (y_minor, 4)):
        d = pd.DataFrame({"j": vals})
        ye = alt.Y("j:Q", scale=ysc(p), axis=None)
        layers.append(alt.Chart(d).mark_rule(color="black", strokeWidth=1.2).encode(
            y=ye, x=alt.value(x0), x2=alt.value(x0 + L)))
        layers.append(alt.Chart(d).mark_rule(color="black", strokeWidth=1.2).encode(
            y=ye, x=alt.value(x1), x2=alt.value(x1 - L)))
    dl = pd.DataFrame({"E": x_major, "lab": x_labels})
    layers.append(alt.Chart(dl).mark_text(font=FONT, fontSize=18, align="center", baseline="alphabetic").encode(
        x=alt.X("E:Q", scale=xsc(p), axis=None), y=alt.value(yb + 25), text="lab:N"))
    dy_ = pd.DataFrame({"j": y_major, "e": y_exp})
    layers.append(alt.Chart(dy_).mark_text(font=FONT, fontSize=18, align="right", baseline="middle", dy=2,
                                           text="10").encode(
        y=alt.Y("j:Q", scale=ysc(p), axis=None), x=alt.value(x0 - 16)))
    layers.append(alt.Chart(dy_).mark_text(font=FONT, fontSize=12, align="left", baseline="middle", dy=-6).encode(
        y=alt.Y("j:Q", scale=ysc(p), axis=None), x=alt.value(x0 - 15), text="e:N"))
    fr = pd.DataFrame({"x": [x0], "x2": [x1], "y": [ytop], "y2": [yb]})
    layers.append(alt.Chart(fr).mark_rect(fillOpacity=0, stroke="black", strokeWidth=1.5).encode(
        x=alt.X("x:Q", scale=None, axis=None), x2="x2:Q",
        y=alt.Y("y:Q", scale=None, axis=None), y2="y2:Q"))

chart = alt.layer(*layers).resolve_scale(x="independent", y="independent").properties(
    width=1108, height=440, autosize=alt.AutoSizeParams(type="none"), padding=0
).configure_view(strokeWidth=0)

chart.save("out.html", embed_options={"renderer": "svg", "actions": False})
